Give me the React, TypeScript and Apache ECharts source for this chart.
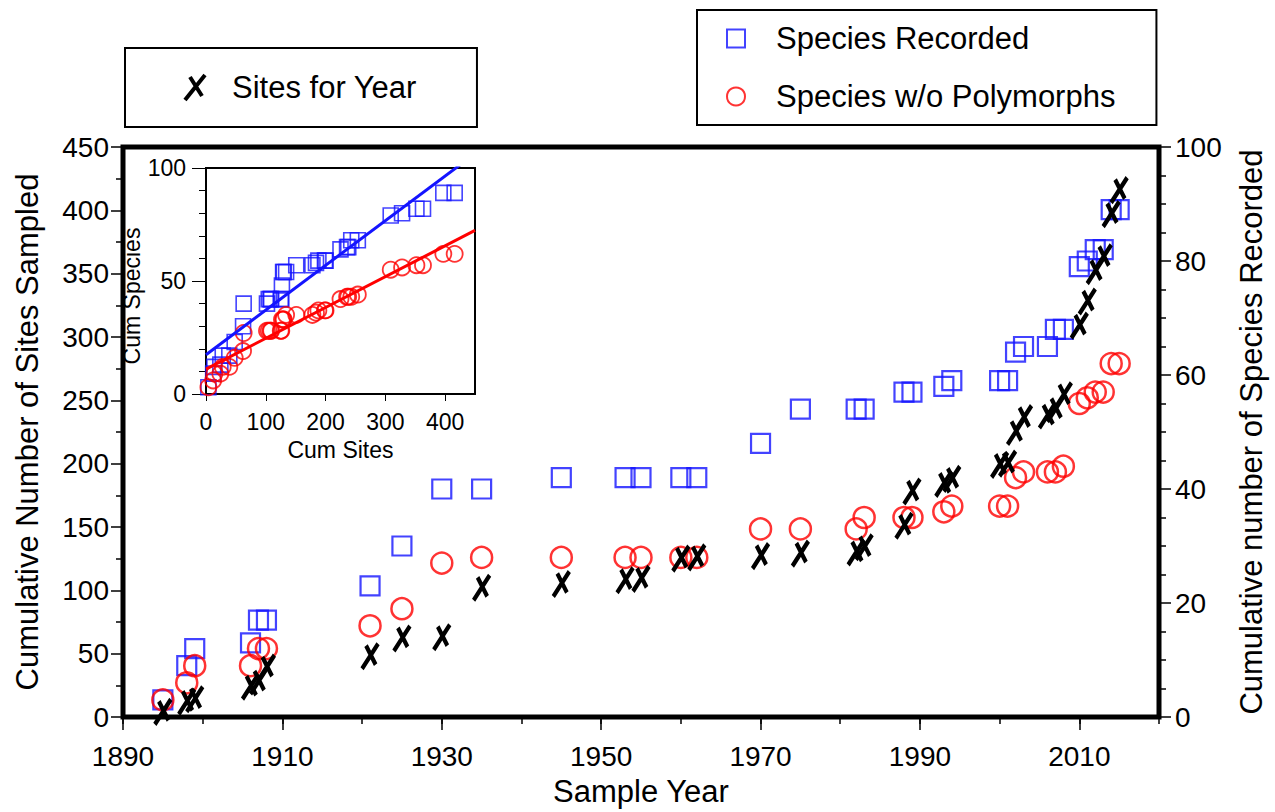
import React, { useEffect, useRef } from 'react';
import * as echarts from 'echarts';

// Sample years (main chart x values)
const years = [1895, 1898, 1899, 1906, 1907, 1908, 1921, 1925, 1930, 1935, 1945, 1953, 1955, 1960, 1962, 1970, 1975, 1982, 1983, 1988, 1989, 1993, 1994, 2000, 2001, 2002, 2003, 2006, 2007, 2008, 2010, 2011, 2012, 2013, 2014, 2015];
// Cumulative number of sites sampled (left axis)
const cumSites = [4, 12, 14, 24, 28, 39, 48, 62, 63, 102, 105, 108, 109, 125, 126, 127, 129, 130, 134, 151, 178, 184, 188, 199, 200, 225, 236, 238, 243, 254, 309, 328, 352, 363, 397, 416];
// Cumulative species recorded (right axis)
const speciesRecorded = [3, 9, 12, 13, 17, 17, 23, 30, 40, 40, 42, 42, 42, 42, 42, 48, 54, 54, 54, 57, 57, 58, 59, 59, 59, 64, 65, 65, 68, 68, 79, 80, 82, 82, 89, 89];
// Cumulative species without polymorphs (right axis)
const speciesNoPoly = [3, 6, 9, 9, 12, 12, 16, 19, 27, 28, 28, 28, 28, 28, 28, 33, 33, 33, 35, 35, 35, 36, 37, 37, 37, 42, 43, 43, 43, 44, 55, 56, 57, 57, 62, 62];

// Inset linear fits (Cum Species vs Cum Sites)
const blueFit = { intercept: 17.4, slope: 0.1976 };
const redFit = { intercept: 11.0, slope: 0.1364 };
const insetFitRange = [0, 450];

const leftTicks = { min: 0, max: 450, interval: 50 };
const rightTicks = { min: 0, max: 100, interval: 20 };
const xTicks = { min: 1890, max: 2020, interval: 20 };

const X_SYMBOL = 'path://M0,25L20,0M5,2L17,21';
const FONT = '"Liberation Sans", Arial, Helvetica, sans-serif';
const BLUE = '#1414ff';
const RED = '#ff0000';
const plain = (v: number) => String(v);

export default function App() {
  const ref = useRef<HTMLDivElement>(null);
  useEffect(() => {
    const chart = echarts.init(ref.current!, null, { renderer: 'svg' });
    const tickLine = { color: '#000', width: 1.5 };
    const option: any = {
      animation: false,
      backgroundColor: '#fff',
      textStyle: { fontFamily: FONT, color: '#000' },
      grid: [
        { left: 123, top: 147, width: 1037, height: 576, show: true, borderWidth: 5, borderColor: '#000', backgroundColor: 'transparent', containLabel: false },
        { left: 206, top: 168, width: 269, height: 226, show: true, borderWidth: 2, borderColor: '#000', backgroundColor: '#fff', containLabel: false },
      ],
      legend: [
        {
          data: [{ name: 'Sites for Year', itemStyle: { borderWidth: 4, color: 'transparent', borderColor: '#000' } }],
          left: 125, top: 48, orient: 'vertical',
          padding: [24, 60, 24, 58],
          itemWidth: 20, itemHeight: 26,
          borderColor: '#000', borderWidth: 2, backgroundColor: '#fff',
          selectedMode: false,
          textStyle: { fontSize: 31, color: '#000', fontFamily: FONT, padding: [0, 0, 0, 22] },
        },
        {
          data: [
            { name: 'Species Recorded', itemStyle: { borderWidth: 2, color: 'transparent', borderColor: BLUE } },
            { name: 'Species w/o Polymorphs', itemStyle: { borderWidth: 2, color: 'transparent', borderColor: RED } },
          ],
          left: 697, top: 10, orient: 'vertical',
          padding: [13, 41, 13, 29],
          itemGap: 27,
          itemWidth: 18, itemHeight: 18,
          borderColor: '#000', borderWidth: 2, backgroundColor: '#fff',
          selectedMode: false,
          textStyle: { fontSize: 31, color: '#000', fontFamily: FONT, padding: [0, 0, 0, 26] },
        },
      ],
      xAxis: [
        {
          gridIndex: 0, type: 'value', position: 'bottom',
          min: xTicks.min, max: xTicks.max, interval: xTicks.interval / 2,
          axisLine: { show: false },
          axisTick: { show: true, length: 7, lineStyle: tickLine },
          axisLabel: { show: false },
          splitLine: { show: false },
        },
        {
          gridIndex: 0, type: 'value', position: 'bottom',
          min: xTicks.min, max: xTicks.max, interval: xTicks.interval,
          axisLine: { show: false },
          axisTick: { show: true, length: 13, lineStyle: tickLine },
          axisLabel: { show: true, fontSize: 28, color: '#000', margin: 25, showMaxLabel: false, fontFamily: FONT, formatter: plain },
          splitLine: { show: false },
          name: 'Sample Year', nameLocation: 'middle', nameGap: 59,
          nameTextStyle: { fontSize: 31, color: '#000', fontFamily: FONT },
        },
        {
          gridIndex: 1, type: 'value', position: 'bottom',
          min: 0, max: 450, interval: 100,
          axisLine: { show: false },
          axisTick: { show: true, length: 7, lineStyle: { color: '#000', width: 1 } },
          axisLabel: { show: true, fontSize: 23, color: '#000', margin: 16, showMaxLabel: false, fontFamily: FONT, formatter: plain },
          splitLine: { show: false },
          name: 'Cum Sites', nameLocation: 'middle', nameGap: 44,
          nameTextStyle: { fontSize: 23, color: '#000', fontFamily: FONT },
        },
      ],
      yAxis: [
        {
          gridIndex: 0, type: 'value', position: 'left',
          min: leftTicks.min, max: leftTicks.max, interval: leftTicks.interval,
          axisLine: { show: false },
          axisTick: { show: true, length: 12, lineStyle: tickLine },
          minorTick: { show: true, splitNumber: 2, length: 7, lineStyle: tickLine },
          axisLabel: { show: true, fontSize: 28, color: '#000', margin: 14, fontFamily: FONT, formatter: plain },
          splitLine: { show: false },
          name: 'Cumulative Number of Sites Sampled', nameLocation: 'middle', nameGap: 80, nameRotate: 90,
          nameTextStyle: { fontSize: 31, color: '#000', fontFamily: FONT },
        },
        {
          gridIndex: 0, type: 'value', position: 'right',
          min: rightTicks.min, max: rightTicks.max, interval: rightTicks.interval,
          axisLine: { show: false },
          axisTick: { show: true, length: 12, lineStyle: tickLine },
          minorTick: { show: true, splitNumber: 4, length: 7, lineStyle: tickLine },
          axisLabel: { show: true, fontSize: 28, color: '#000', margin: 16, fontFamily: FONT, formatter: plain },
          splitLine: { show: false },
          name: 'Cumulative number of Species Recorded', nameLocation: 'middle', nameGap: 77, nameRotate: 90,
          nameTextStyle: { fontSize: 31, color: '#000', fontFamily: FONT },
        },
        {
          gridIndex: 1, type: 'value', position: 'left',
          min: 0, max: 100, interval: 50,
          axisLine: { show: false },
          axisTick: { show: true, length: 14, lineStyle: { color: '#000', width: 1 } },
          minorTick: { show: true, splitNumber: 5, length: 7, lineStyle: { color: '#000', width: 1 } },
          axisLabel: { show: true, fontSize: 23, color: '#000', margin: 20, fontFamily: FONT, formatter: plain },
          splitLine: { show: false },
          name: 'Cum Species', nameLocation: 'middle', nameGap: 52, nameRotate: 90,
          nameTextStyle: { fontSize: 23, color: '#000', fontFamily: FONT, padding: [0, 30, 0, 0] },
        },
      ],
      series: [
        {
          name: 'Species Recorded', type: 'scatter', xAxisIndex: 1, yAxisIndex: 1,
          symbol: 'rect', symbolSize: 19,
          itemStyle: { color: 'transparent', borderColor: BLUE, borderWidth: 2.2 },
          data: years.map((y, i) => [y, speciesRecorded[i]]),
          z: 3,
        },
        {
          name: 'Species w/o Polymorphs', type: 'scatter', xAxisIndex: 1, yAxisIndex: 1,
          symbol: 'circle', symbolSize: 21,
          itemStyle: { color: 'transparent', borderColor: RED, borderWidth: 2.5 },
          data: years.map((y, i) => [y, speciesNoPoly[i]]),
          z: 4,
        },
        {
          name: 'Sites for Year', type: 'scatter', xAxisIndex: 1, yAxisIndex: 0,
          symbol: X_SYMBOL, symbolSize: [20, 25], symbolKeepAspect: true,
          itemStyle: { color: 'transparent', borderColor: '#000', borderWidth: 4.5, opacity: 1 },
          data: years.map((y, i) => [y, cumSites[i]]),
          z: 5,
        },
        {
          name: 'Species Recorded', type: 'scatter', xAxisIndex: 2, yAxisIndex: 2,
          symbol: 'rect', symbolSize: 15,
          itemStyle: { color: 'transparent', borderColor: BLUE, borderWidth: 1.6 },
          data: cumSites.map((s, i) => [s, speciesRecorded[i]]),
          z: 6,
        },
        {
          name: 'Species w/o Polymorphs', type: 'scatter', xAxisIndex: 2, yAxisIndex: 2,
          symbol: 'circle', symbolSize: 16,
          itemStyle: { color: 'transparent', borderColor: RED, borderWidth: 1.8 },
          data: cumSites.map((s, i) => [s, speciesNoPoly[i]]),
          z: 6,
        },
        {
          name: 'Species Recorded fit', type: 'line', xAxisIndex: 2, yAxisIndex: 2,
          showSymbol: false, symbol: 'none', clip: true,
          lineStyle: { color: BLUE, width: 3 },
          data: insetFitRange.map((s) => [s, blueFit.intercept + blueFit.slope * s]),
          z: 7,
        },
        {
          name: 'Species w/o Polymorphs fit', type: 'line', xAxisIndex: 2, yAxisIndex: 2,
          showSymbol: false, symbol: 'none', clip: true,
          lineStyle: { color: RED, width: 3 },
          data: insetFitRange.map((s) => [s, redFit.intercept + redFit.slope * s]),
          z: 7,
        },
      ],
    };
    chart.setOption(option);
    return () => chart.dispose();
  }, []);
  return <div ref={ref} style={{ position: 'absolute', left: 0, top: 0, width: 1275, height: 812 }} />;
}
